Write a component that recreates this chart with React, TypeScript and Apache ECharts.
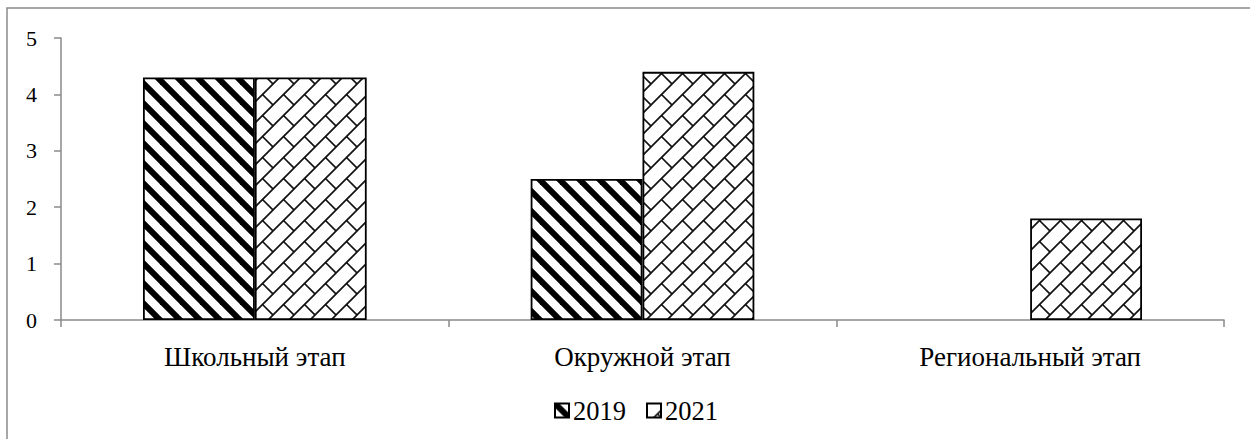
import React, { useEffect, useRef } from "react";
import * as echarts from "echarts";

const categories = ["Школьный этап", "Окружной этап", "Региональный этап"];
const seriesNames = ["2019", "2021"];
const values2019: (number | null)[] = [4.3, 2.5, null];
const values2021: (number | null)[] = [4.3, 4.4, 1.8];
const yMin = 0;
const yMax = 5;
const yStep = 1;

function makeStripe() {
  const P = 20;
  const c = document.createElement("canvas");
  c.width = P;
  c.height = P;
  const ctx = c.getContext("2d")!;
  ctx.fillStyle = "#fff";
  ctx.fillRect(0, 0, P, P);
  ctx.strokeStyle = "#000";
  ctx.lineWidth = 6;
  for (let k = -2; k <= 2; k++) {
    ctx.beginPath();
    ctx.moveTo(k * P - 4, -4);
    ctx.lineTo(k * P + P + 4, P + 4);
    ctx.stroke();
  }
  return { image: c, repeat: "repeat", imageWidth: P, imageHeight: P };
}

function makeBrick() {
  const T = 21;
  const c = document.createElement("canvas");
  c.width = T;
  c.height = T;
  const ctx = c.getContext("2d")!;
  ctx.fillStyle = "#fff";
  ctx.fillRect(0, 0, T, T);
  ctx.strokeStyle = "#111";
  ctx.lineWidth = 1.7;
  for (let k = 0; k <= 2; k++) {
    ctx.beginPath();
    ctx.moveTo(k * T + 4, -4);
    ctx.lineTo(k * T - T - 4, T + 4);
    ctx.stroke();
  }
  const shifts = [
    [0, 0],
    [-T, -T],
    [-T, 0],
    [0, -T],
  ];
  for (const [dx, dy] of shifts) {
    ctx.beginPath();
    ctx.moveTo(T / 2 + dx, T / 2 + dy);
    ctx.lineTo(T + dx, T + dy);
    ctx.stroke();
  }
  return { image: c, repeat: "repeat", imageWidth: T, imageHeight: T };
}

export default function App() {
  const ref = useRef<HTMLDivElement>(null);
  useEffect(() => {
    if (!ref.current) return;
    const chart = echarts.init(ref.current, null, { renderer: "svg" });
    const font = "Times New Roman, Liberation Serif, serif";
    const stripe = makeStripe();
    const brick = makeBrick();
    chart.setOption({
      animation: false,
      backgroundColor: "#fff",
      textStyle: { fontFamily: font },
      graphic: [
        {
          type: "rect",
          shape: { x: 7, y: 8, width: 1300, height: 500 },
          style: { fill: "none", stroke: "#8a8a8a", lineWidth: 1.5 },
          silent: true,
        },
      ],
      grid: { left: 61, right: 26, top: 38, bottom: 119 },
      legend: {
        data: seriesNames,
        left: 549,
        top: 392,
        icon: "rect",
        itemWidth: 14,
        itemHeight: 14,
        itemGap: 20,
        textStyle: { fontFamily: font, fontSize: 26.5, color: "#000", padding: [0, 0, 0, -1] },
      },
      xAxis: {
        type: "category",
        data: categories,
        axisLine: { lineStyle: { color: "#8a8a8a", width: 1.5 } },
        axisTick: { show: true, length: 7, lineStyle: { color: "#8a8a8a", width: 1.5 } },
        axisLabel: { color: "#000", fontSize: 27, fontFamily: font, margin: 23 },
      },
      yAxis: {
        type: "value",
        min: yMin,
        max: yMax,
        interval: yStep,
        splitLine: { show: false },
        axisLine: { show: true, lineStyle: { color: "#8a8a8a", width: 1.5 } },
        axisTick: { show: true, length: 7, lineStyle: { color: "#8a8a8a", width: 1.5 } },
        axisLabel: { color: "#000", fontSize: 22, fontFamily: font, margin: 24 },
      },
      series: [
        {
          name: seriesNames[0],
          type: "bar",
          data: values2019,
          barGap: "0%",
          barCategoryGap: "42.3%",
          itemStyle: { color: stripe, borderColor: "#000", borderWidth: 1.8 },
        },
        {
          name: seriesNames[1],
          type: "bar",
          data: values2021,
          barGap: "0%",
          barCategoryGap: "42.3%",
          itemStyle: { color: brick, borderColor: "#000", borderWidth: 1.8 },
        },
      ],
    });
    return () => chart.dispose();
  }, []);
  return (
    <div
      ref={ref}
      style={{ position: "fixed", left: 0, top: 0, width: 1250, height: 439 }}
    />
  );
}
